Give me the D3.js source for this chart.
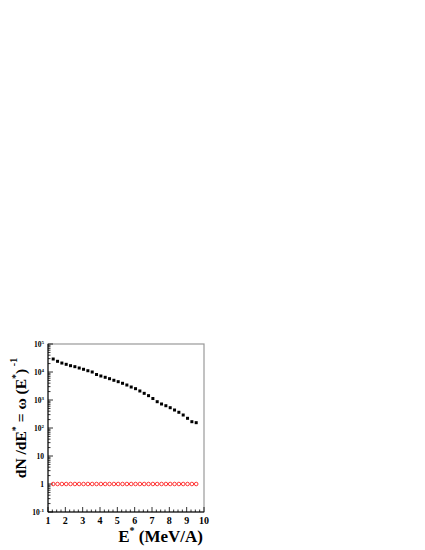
<!DOCTYPE html>
<html><head><meta charset="utf-8">
<script src="https://d3js.org/d3.v7.min.js"></script>
<style>body{margin:0;background:#fff}svg{display:block}text{font-family:"Liberation Serif","Times New Roman",serif;font-weight:bold}</style>
</head><body>
<script>
const xValues = [1.3,1.55,1.8,2.05,2.3,2.55,2.8,3.05,3.3,3.55,3.8,4.05,4.3,4.55,4.8,5.05,5.3,5.55,5.8,6.05,6.3,6.55,6.8,7.05,7.3,7.55,7.8,8.05,8.3,8.55,8.8,9.05,9.3,9.55];
const dNdE = [29100,24100,20900,18800,16800,15500,13900,12500,11100,10000,8140,7200,6470,5770,5060,4510,3950,3430,2910,2540,2100,1730,1430,1130,870,720,625,531,439,364,291,222,168,155];
const omegaInv = [1,1,1,1,1,1,1,1,1,1,1,1,1,1,1,1,1,1,1,1,1,1,1,1,1,1,1,1,1,1,1,1,1,1];
const xTicks = [1,2,3,4,5,6,7,8,9,10];
const yTicks = [0.1,1,10,100,1000,10000,100000];
const yTickLabels = [["10","-1"],["1",""],["10",""],["10","2"],["10","3"],["10","4"],["10","5"]];

const W=425,H=550;
const svg=d3.select("body").append("svg").attr("width",W).attr("height",H);
const L=48,R=204,T=344,B=512;
const x=d3.scaleLinear().domain([1,10]).range([L,R]);
const y=d3.scaleLog().domain([0.1,100000]).range([B,T]);

svg.append("rect").attr("x",L).attr("y",T).attr("width",R-L).attr("height",B-T)
  .attr("fill","none").attr("stroke","#999").attr("stroke-width",1.2);

const xMinor=[];
for(let v=1;v<=10.001;v+=0.25) xMinor.push(+v.toFixed(2));
const gx=svg.append("g");
gx.selectAll("line.mn").data(xMinor).enter().append("line")
  .attr("x1",d=>x(d)).attr("x2",d=>x(d)).attr("y1",B).attr("y2",d=>Number.isInteger(d)?B-5:B-2.5)
  .attr("stroke","#000").attr("stroke-width",0.8);
gx.append("line").attr("x1",L).attr("x2",R).attr("y1",B).attr("y2",B).attr("stroke","#000").attr("stroke-width",1);
gx.selectAll("text").data(xTicks).enter().append("text")
  .attr("x",d=>x(d)).attr("y",B+12).attr("text-anchor","middle").attr("font-size",10).text(d=>d);

const yMinor=[];
for(let e=-1;e<5;e++) for(let k=1;k<10;k++) yMinor.push({v:k*Math.pow(10,e),major:k===1});
yMinor.push({v:100000,major:true});
const gy=svg.append("g");
gy.append("line").attr("x1",L).attr("x2",L).attr("y1",T).attr("y2",B).attr("stroke","#000").attr("stroke-width",1);
gy.selectAll("line.t").data(yMinor).enter().append("line")
  .attr("x1",L).attr("x2",d=>d.major?L+5:L+2.5).attr("y1",d=>y(d.v)).attr("y2",d=>y(d.v))
  .attr("stroke","#000").attr("stroke-width",0.8);
const yl=gy.selectAll("text").data(yTicks).enter().append("text")
  .attr("x",L-4).attr("y",d=>y(d)+3).attr("text-anchor","end").attr("font-size",7.5);
yl.each(function(d,i){
  const t=d3.select(this);const lb=yTickLabels[i];
  t.append("tspan").text(lb[0]);
  if(lb[1]) t.append("tspan").attr("font-size",5).attr("dy",-3).text(lb[1]);
});

svg.append("g").selectAll("rect").data(xValues).enter().append("rect")
  .attr("x",(d)=>x(d)-1.5).attr("y",(d,i)=>y(dNdE[i])-1.5).attr("width",3).attr("height",3).attr("fill","#000");
svg.append("g").selectAll("circle").data(xValues).enter().append("circle")
  .attr("cx",d=>x(d)).attr("cy",(d,i)=>y(omegaInv[i])).attr("r",1.8)
  .attr("fill","none").attr("stroke","#ff2020").attr("stroke-width",0.9);

const xt=svg.append("text").attr("x",R-1).attr("y",542).attr("text-anchor","end").attr("font-size",17);
xt.append("tspan").text("E");
xt.append("tspan").attr("font-size",10).attr("dy",-8).text("*");
xt.append("tspan").attr("dy",8).text(" (MeV/A)");

const yt=svg.append("text").attr("transform","translate(26,"+((T+B)/2-10)+") rotate(-90)").attr("text-anchor","middle").attr("font-size",15.5);
yt.append("tspan").text("dN /dE");
yt.append("tspan").attr("font-size",10).attr("dy",-7).text("*");
yt.append("tspan").attr("dy",7).text(" = ω (E");
yt.append("tspan").attr("font-size",10).attr("dy",-7).text("*");
yt.append("tspan").attr("dy",7).text(")");
yt.append("tspan").attr("font-size",10).attr("dy",-9).text(" -1");
</script>
</body></html>
